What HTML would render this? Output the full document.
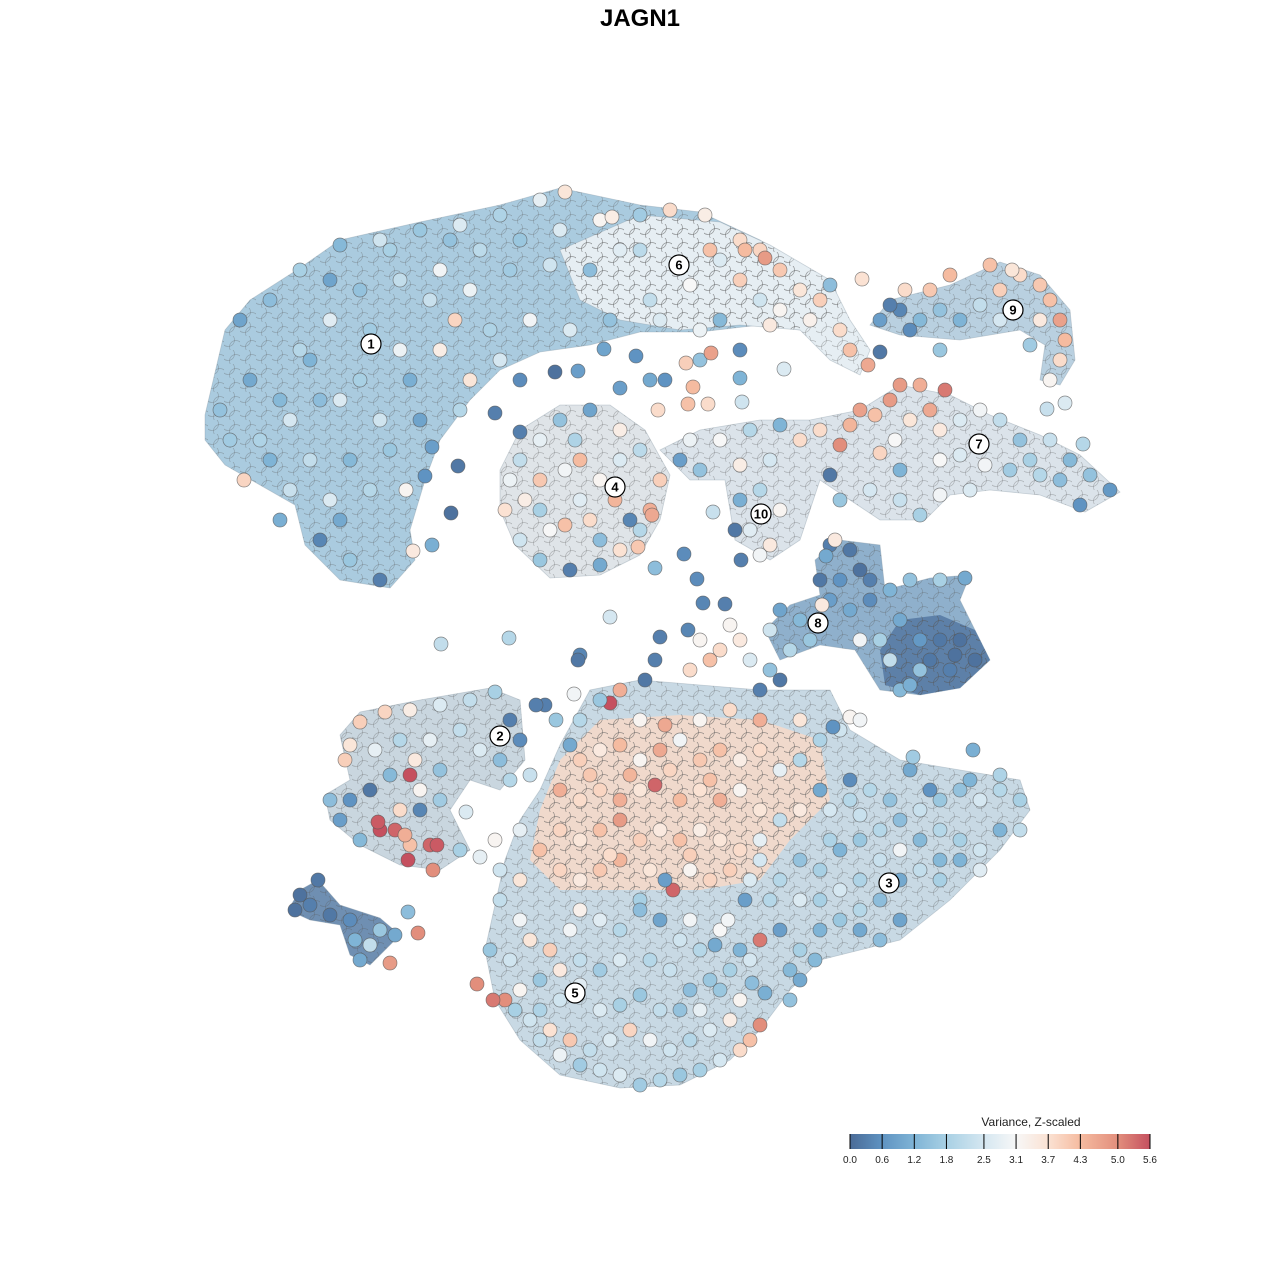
<!DOCTYPE html>
<html><head><meta charset="utf-8"><style>
html,body{margin:0;padding:0;background:#fff;}
svg{display:block;font-family:"Liberation Sans",Arial,sans-serif;}
</style></head><body>
<svg id="chart" width="1280" height="1280" viewBox="0 0 1280 1280" xmlns="http://www.w3.org/2000/svg">
<defs>
<pattern id="tex" width="16" height="14" patternUnits="userSpaceOnUse">
<circle cx="4" cy="4" r="6.5" fill="none" stroke="#555" stroke-opacity="0.35" stroke-width="0.7"/>
<circle cx="12" cy="11" r="6.5" fill="none" stroke="#555" stroke-opacity="0.35" stroke-width="0.7"/>
</pattern>
</defs>
<rect x="0" y="0" width="1280" height="1280" fill="#fff"/>
<text x="640" y="26" text-anchor="middle" font-size="24" font-weight="bold" fill="#000">JAGN1</text>
<g id="hulls" stroke="#8899a6" stroke-width="0.8" stroke-opacity="0.4">
<path fill="#aacbdf" d="M205,415 L225,330 L250,300 L300,268 L340,240 L420,222 L500,205 L560,188 L640,205 L700,212 L760,240 L800,268 L835,285 L840,315 L800,330 L760,325 L700,332 L640,332 L590,345 L540,352 L500,370 L470,400 L440,440 L425,480 L410,530 L415,560 L390,588 L340,580 L305,545 L295,505 L260,485 L225,465 L205,440 Z"/>
<path fill="#e6eef3" d="M560,250 L640,215 L720,222 L770,245 L830,280 L850,320 L870,350 L860,375 L830,360 L800,330 L740,325 L680,330 L620,320 L580,300 Z"/>
<path fill="#dfe4e8" d="M500,470 L520,430 L560,405 L610,405 L645,430 L670,475 L660,520 L640,555 L600,575 L550,578 L515,545 L500,510 Z"/>
<path fill="#dbe3ea" d="M660,450 L700,430 L760,420 L810,420 L860,410 L900,385 L950,395 L990,415 L1040,435 L1080,455 L1120,492 L1085,512 L1040,495 L990,490 L950,495 L925,520 L880,520 L850,500 L820,480 L800,540 L770,560 L735,540 L725,480 L690,480 Z"/>
<path fill="#b9d0e0" d="M870,325 L890,300 L950,285 L1000,262 L1040,275 L1070,310 L1075,360 L1060,385 L1040,380 L1045,345 L1020,330 L960,340 L900,335 Z"/>
<path fill="#8fb0cc" d="M815,560 L840,540 L880,545 L885,590 L930,578 L970,575 L960,600 L975,630 L990,660 L960,688 L920,695 L880,690 L855,650 L820,645 L780,660 L765,630 L790,605 L820,595 Z"/>
<path fill="#5d80a8" stroke="none" d="M900,620 L940,615 L975,630 L990,660 L960,688 L920,695 L885,685 L880,650 Z"/>
<path fill="#c9d6df" d="M340,735 L360,712 L420,700 L490,688 L520,700 L525,760 L500,790 L470,780 L450,810 L470,850 L440,870 L400,865 L360,845 L330,820 L325,795 L350,780 Z"/>
<path fill="#c8d9e4" d="M560,745 L590,690 L640,680 L700,685 L760,690 L830,690 L850,730 L900,760 L960,770 L1020,780 L1030,810 L1000,850 L950,900 L900,940 L820,960 L790,990 L760,1030 L730,1060 L680,1085 L620,1088 L560,1075 L520,1040 L495,1000 L485,950 L495,905 L505,860 L520,820 L540,790 Z"/>
<path fill="#f0d9cc" stroke="none" d="M560,760 L600,720 L680,715 L760,720 L820,740 L830,800 L790,840 L760,880 L700,890 L620,890 L560,890 L530,860 L540,810 Z"/>
<path fill="#6f8fb2" d="M288,910 L300,890 L318,880 L340,905 L380,918 L400,935 L370,965 L350,955 L340,925 L310,920 Z"/>
</g>
<g id="texture"></g>
<g id="points"></g>
<g id="labels"></g>
<g id="legend">
<text x="1031" y="1126" text-anchor="middle" font-size="12" fill="#222">Variance, Z-scaled</text>
<defs><linearGradient id="cbar" x1="0" x2="1" y1="0" y2="0">
<stop offset="0" stop-color="#4a6b97"/><stop offset="0.107" stop-color="#5f93c2"/><stop offset="0.214" stop-color="#7fb4d6"/><stop offset="0.321" stop-color="#a8d0e4"/><stop offset="0.446" stop-color="#d5e7f1"/><stop offset="0.554" stop-color="#f7f7f7"/><stop offset="0.661" stop-color="#fbe2d3"/><stop offset="0.768" stop-color="#f5bba0"/><stop offset="0.893" stop-color="#e28e7c"/><stop offset="1" stop-color="#c5505f"/>
</linearGradient></defs>
<rect x="850" y="1134" width="300" height="15" fill="url(#cbar)"/>
<g id="ticks"></g>
</g>
<script>
var legendTicks = [0.0, 0.6, 1.2, 1.8, 2.5, 3.1, 3.7, 4.3, 5.0, 5.6];
var colorStops = [0, 0.6, 1.2, 1.8, 2.5, 3.1, 3.7, 4.3, 5.0, 5.6];
var colorVals = ["#4a6b97","#5f93c2","#7fb4d6","#a8d0e4","#d5e7f1","#f7f7f7","#fbe2d3","#f5bba0","#e28e7c","#c5505f"];
var clusterIds = ["1","6","9","7","4","10","8","2","3","5"];
var clusterX = [37.1,67.9,101.3,97.9,61.5,76.1,81.8,50.0,88.9,57.5];
var clusterY = [34.4,26.5,31.0,44.4,48.7,51.4,62.3,73.6,88.3,99.3];
var cells = [
[22,41,1.5],[24,32,0.9],[27,30,1.4],[30,27,1.8],[34,24.5,1.3],[38,24,2.4],[42,23,1.6],[46,22.5,2.6],[50,21.5,1.9],[54,20,2.8],[56.5,19.2,3.6],
[25,38,1.0],[23,44,1.7],[24.4,48,3.9],[27,46,1.2],[29,42,2.5],[32,40,1.4],[30,35,2.0],[33,32,2.7],[36,29,1.5],[40,28,2.2],[44,27,3.0],[48,25,2.1],[52,24,1.6],[56,23,2.6],[60,22,3.2],[64,21.5,1.7],[67,21,3.8],[70.5,21.5,3.4],[74,24,3.8],[76,25,3.9],[72,26,2.6],[69,28.5,3.1],[65,30,2.2],[61,32,1.5],[57,33,2.6],[53,32,3.0],[49,33,1.9],[45.5,32,3.9],[44,35,3.4],[41,38,1.1],[38,42,2.4],[35,46,1.3],[33,50,2.6],[32,54,0.4],[35,56,1.6],[38,58,0.3],[40.6,49,3.2],[41.3,55.1,3.5],[43.2,54.5,1.1],[42,42,0.9],[40,35,2.9],[47,38,3.6],[50,36,2.5],[52,38,0.5],[46,41,2.0],[43.2,44.7,0.8],[45.8,46.6,0.2],[45.1,51.3,0.1],[42.5,47.6,0.6],[36,38,1.8],[28,52,1.1],[29,49,2.3],
[31,36,1.2],[26,44,1.9],[34,52,1.0],[37,49,2.0],[39,45,1.6],[31,46,2.2],[28,40,1.3],[34,40,2.6],[37,33,1.7],[43,30,2.3],[47,29,2.9],[51,27,1.7],[55,26.5,2.4],[59,27,1.4],[62,25,2.7],[45,24,1.5],[39,25,1.8],[33,28,0.9],
[78,27,4.1],[80,29,3.6],[82,30,4.0],[83,28.5,1.4],[81,32,3.3],[84,33,3.8],[85,35,4.2],[86.8,36.5,4.6],[86.2,27.9,3.7],[78,31,3.2],[76,30,2.4],[74,28,4.0],[71,25,4.2],[74.5,25,4.3],[76.5,25.8,4.8],[64,25,2.1],[61.2,21.7,3.4],[70,33,2.9],[72,32,1.3],[66,32,2.6],[77,32.5,3.5],[74,35,0.5],[88,35.2,0.2],
[55.5,37.2,0.1],[57.8,37.1,0.8],[60.4,34.9,0.9],[63.6,35.6,0.6],[65,38,1.0],[62,38.8,0.8],[66.5,38,0.6],[69.3,38.7,4.3],[70,36,1.5],[71.1,35.3,4.7],[68.6,36.3,4.0],[65.8,41,3.8],[68.8,40.4,4.2],[70.8,40.4,3.8],[74,37.8,1.2],[74.2,40.2,2.4],[78.4,36.9,2.6],[49.5,41.3,0.3],[52,43.2,0.3],
[52,46,2.2],[54,44,2.8],[56,42,1.5],[59,41,0.9],[62,43,3.4],[64,45,2.1],[66,48,4.0],[65,51,4.5],[64,53,2.0],[62,55,3.7],[60,56.5,1.0],[57,57,0.3],[54,56,1.6],[52,54,2.4],[50.5,51,3.7],[51,48,2.9],[54,48,4.1],[56.5,47,3.0],[58,46,4.3],[60,48,3.2],[61.5,50,4.4],[59,52,3.8],[56.5,52.5,4.2],[54,51,1.8],[62,46,2.6],[63,52,0.4],[57.5,44,1.9],[60,54,1.4],[52.5,50,3.4],[65.2,51.5,4.6],[63.8,54.7,4.1],[55,53,3.1],[58,50,2.7],
[69,44,2.9],[72,44,3.1],[75,43,2.0],[78,42.5,1.2],[80,44,3.8],[77,46,2.5],[74,46.5,3.4],[70,47,1.5],[68,46,0.8],[76,49,2.0],[78,51,3.2],[75,53,2.7],[77,54.5,3.5],[74,50,1.1],[76,55.5,3.0],[74.1,56,0.3],[71.3,51.2,2.3],[73.5,53,0.2],
[82,43,3.8],[85,42.5,4.4],[87.5,41.5,4.2],[89,40,4.8],[90,38.5,4.8],[92,38.5,4.5],[94.5,39,5.2],[93,41,4.6],[91,42,3.6],[89.5,44,3.1],[94,43,3.5],[96,42,2.6],[98,41,3.0],[100,42,2.2],[102,44,1.5],[105,44,2.3],[107,46,1.3],[109,47.5,1.5],[111,49,0.7],[108,50.5,0.6],[104,47.5,2.0],[101,47,1.7],[98.5,46.5,3.0],[96,45.5,2.6],[94,46,3.1],[108.3,44.4,2.0],[104.7,40.9,2.3],[86,41,4.7],[84,44.5,5.0],[88,45.3,3.9],[83,47.5,0.2],[84,50,1.6],[87,49,2.5],[90,50,2.3],[92,51.5,1.8],[94,49.5,3.0],[97,49,2.6],[90,47,1.2],[103,46,1.8],[106,48,1.4],
[88,32,0.8],[90,31,0.4],[92,32,1.3],[94,31,1.5],[96,32,1.2],[98,30.5,2.2],[100,32,2.5],[100,29,4.0],[102,27.5,3.8],[104,28.5,4.1],[105,30,4.2],[106,32,4.7],[106.5,34,4.3],[106,36,3.8],[105,38,3.2],[106.5,40.3,2.6],[103,34.5,1.7],[104,32,3.5],[95,27.5,4.3],[93,29,4.1],[99,26.5,4.2],[94,35,1.6],[101.2,27,3.6],[90.5,29,3.8],[89,30.5,0.3],[91,33,0.5],
[83,54.5,0.3],[85,55,0.2],[86,57,0.1],[87,58,0.3],[84,58,0.6],[83,60,0.8],[82,62,1.9],[80,62,1.3],[78,61,0.9],[77,63,2.4],[79,65,2.0],[81,64,1.6],[85,61,1.0],[87,60,0.5],[89,59,1.2],[91,58,1.5],[94,58,1.8],[96.5,57.8,1.0],[90,62,1.0],[92,64,0.7],[94,64,0.2],[96,64,0.1],[97.5,66,0.1],[95,67,0.3],[92,67,1.5],[90,69,1.3],[89,66,2.2],[88,64,1.8],[86,64,3.0],[83.5,54,3.5],[82.6,55.6,1.0],[82,58,0.2],[82.2,60.5,3.5],[93,66,0.2],[95.5,65.5,0.1],[91,68.5,1.1],
[61,61.7,2.5],[68.4,55.4,0.5],[69.7,57.9,0.5],[70.3,60.3,0.4],[72.5,60.4,0.3],[68.8,63,0.4],[66,63.7,0.3],[65.5,66,0.3],[64.5,68,0.2],[58,65.5,0.4],[57.8,66,0.2],[70,64,3.2],[72,65,3.8],[74,64,3.5],[71,66,4.2],[69,67,3.8],[73,62.5,3.2],[75,66,2.6],[77,67,1.5],[76,69,0.3],[78,68,0.2],[50.9,63.8,2.0],[44.1,64.4,2.2],[65.5,56.8,1.4],
[36,72.2,4.0],[38.5,71.2,3.9],[41,71,3.4],[44,70.5,2.6],[47,70,2.2],[49.5,69.2,1.8],[35,74.5,3.6],[34.5,76,4.0],[37.5,75,2.8],[40,74,2.0],[43,74,2.8],[46,73,2.2],[48,75,2.6],[50,76,1.4],[52,74,0.5],[51,72,0.3],[41.5,76,3.5],[39,77.5,1.3],[37,79,0.2],[35,80,0.6],[33,80,1.4],[34,82,0.8],[36,84,1.3],[38,83,5.6],[39.5,83,5.4],[37.8,82.2,5.5],[41,77.5,5.6],[42,79,3.2],[42,81,0.4],[44,80,1.7],[40,81,3.8],[41,84.5,4.2],[40.8,86,5.6],[43,84.5,5.4],[43.7,84.5,5.5],[43.3,87,5.0],[40.5,83.5,4.5],[46,85,1.8],[46.6,81.2,2.6],[44,77,1.5],[53,77.5,2.3],[51,78,2.0],[49.5,84,3.2],[48,85.7,2.8],[54.5,70.5,0.3],[53.6,70.5,0.3],[55.6,72,1.6],[57.4,69.4,3.0],
[29.5,91,0.1],[30,89.5,0.1],[31.8,88,0.2],[31,90.5,0.3],[33,91.5,0.2],[35,92,0.5],[35.5,94,1.2],[36,96,1.0],[38,93,1.6],[37,94.5,2.2],[39.5,93.5,1.0],[40.8,91.2,1.4],[39,96.3,4.8],[41.8,93.3,5.0],
[58,76,4.0],[60,75,3.5],[62,74.5,4.3],[64,76,3.2],[66,75,4.6],[68,74,3.0],[70,76,4.1],[72,75,4.2],[74,76,3.4],[76,75,3.8],[78,77,2.8],[80,76,2.0],[82,74,1.9],[84,73,2.4],[80,72,3.6],[76,72,4.5],[73,71,3.8],[70,72,3.2],[66.5,72.5,4.6],[64,72,3.2],[61,70.3,5.6],[62,69,4.5],[60,70,1.6],[58,72,2.0],[57,74.5,1.0],[56,79,4.5],[58,80,3.8],[60,79,3.9],[62,80,4.5],[64,79,3.6],[65.5,78.5,5.4],[68,80,4.3],[70,79,3.7],[72,80,4.5],[74,79,3.2],[76,81,3.6],[78,82,2.2],[80,81,3.5],[83,81,2.5],[85,80,2.0],[56,83,3.9],[58,84,3.6],[60,83,4.2],[62,82,4.8],[64,84,4.0],[66,83,3.5],[68,84,4.2],[70,83,3.4],[72,84,3.6],[74,85,3.8],[76,84,2.8],[54,85,4.2],[52,83,2.8],[50,87,2.4],[52,88,3.6],[56,87,3.9],[58,88,3.5],[60,87,4.1],[62,86,4.4],[65,87,3.6],[67.3,89,5.4],[69,87,3.2],[71,88,3.9],[73,87,4.0],[75,88,2.6],[66.5,88,0.8],[64,90,1.8],[59,77.5,4.1],[63,77.5,4.4],[67,77,3.9],[71,78,4.2],[61,85.5,3.8],[69,85.5,4.0],
[50,90,2.2],[52,92,3.0],[49,95,1.6],[51,96,2.4],[53,94,3.6],[55,95,4.0],[57,93,3.0],[58,91,3.3],[60,92,2.7],[62,93,2.0],[64,91,1.4],[66,92,0.9],[68,94,2.4],[70,95,2.0],[69,92,3.0],[72,93,3.1],[74,95,1.2],[76,94,5.2],[75,96,2.5],[73,97,1.8],[71,98,1.6],[69,99,1.4],[67,97,2.3],[65,96,2.0],[62,96,2.6],[60,97,1.7],[58,96,2.2],[56,97,3.5],[54,98,1.6],[52,99,3.2],[50.5,100,5.0],[49.3,100,5.2],[47.7,98.4,5.0],[51.5,101,1.8],[53,102,2.4],[55,103,3.7],[57,104,4.1],[59,105,2.2],[61,104,2.6],[63,103,3.9],[65,104,3.0],[67,105,2.4],[69,104,2.0],[71,103,2.6],[73,102,3.4],[75,104,4.2],[76,102.5,5.0],[74,105,3.8],[72,106,2.5],[70,107,1.8],[68,107.5,1.6],[66,108,2.0],[64,108.5,1.7],[62,107.5,2.6],[60,107,2.4],[58,106.5,1.7],[56,105.5,2.9],[54,104,2.2],[60,101,2.6],[62,100.5,1.8],[64,99.5,1.6],[66,101,2.2],[68,101,1.5],[70,101,2.8],[56,100,2.4],[54,101,1.9],[58,98.5,2.7],[72,99,1.6],[74,100,3.2],[76.5,99.3,1.1],[75.2,98.3,1.4],[71.5,94.5,1.0],[72.8,92,3.0],
[78,88,2.0],[80,86,1.5],[82,87,1.8],[84,85,1.2],[86,84,1.6],[88,83,2.0],[90,82,1.4],[92,81,2.3],[94,80,1.6],[96,79,1.5],[98,80,2.5],[100,79,2.0],[102,80,1.8],[102,83,2.2],[100,83,1.2],[98,85,2.4],[96,84,1.8],[94,86,1.3],[92,87,2.2],[90,88,1.0],[88,90,1.4],[86,91,2.0],[84,92,1.6],[82,93,1.2],[80,95,1.8],[79,97,1.3],[78,93,0.8],[80,90,2.6],[82,90,1.8],[84,89,2.5],[86,88,1.9],[90,85,3.0],[92,84,1.3],[94,83,2.0],[96,86,1.2],[98,87,2.7],[88,86,2.3],[86,93,1.0],[88,94,1.4],[90,92,0.9],[94,88,1.8],[91,77,1.0],[93,79,0.6],[97,78,1.2],[100,77.5,1.9],[97.3,75,1.1],[91.3,75.7,1.7],[82,79,1.0],[85,78,0.5],[87,79,2.0],[89,80,1.5],[86,81.5,2.3],[83,84,1.9],[81.5,96,1.3],[79,100,1.5],[80,98,1.0],[76,86,2.5],[77,90,2.0],[74.5,90,0.8],[83.3,72.7,0.6],[85,71.7,3.2],[86,72,3.0]
];
var svgNS = "http://www.w3.org/2000/svg";
function xScale(d){ return d * 10; }
function yScale(d){ return d * 10; }
function legendX(v){ return 850 + v / 5.6 * 300; }
function hex2rgb(h){ return [parseInt(h.substr(1,2),16),parseInt(h.substr(3,2),16),parseInt(h.substr(5,2),16)]; }
function colorFor(v){
  if (v <= colorStops[0]) return colorVals[0];
  for (var i = 1; i < colorStops.length; i++){
    if (v <= colorStops[i]){
      var t = (v - colorStops[i-1]) / (colorStops[i] - colorStops[i-1]);
      var a = hex2rgb(colorVals[i-1]), b = hex2rgb(colorVals[i]);
      return "rgb(" + Math.round(a[0]+(b[0]-a[0])*t) + "," + Math.round(a[1]+(b[1]-a[1])*t) + "," + Math.round(a[2]+(b[2]-a[2])*t) + ")";
    }
  }
  return colorVals[colorVals.length-1];
}
var texG = document.getElementById("texture");
Array.prototype.forEach.call(document.querySelectorAll("#hulls path"), function(p){
  var q = document.createElementNS(svgNS, "path");
  q.setAttribute("d", p.getAttribute("d"));
  q.setAttribute("fill", "url(#tex)");
  q.setAttribute("stroke", "none");
  
  
  texG.appendChild(q);
});
var pg = document.getElementById("points");
cells.forEach(function(c){
  var el = document.createElementNS(svgNS, "circle");
  el.setAttribute("cx", xScale(c[0]));
  el.setAttribute("cy", yScale(c[1]));
  el.setAttribute("r", 7);
  el.setAttribute("fill", colorFor(c[2]));
  el.setAttribute("stroke", "#555");
  el.setAttribute("stroke-opacity", "0.7");
  el.setAttribute("stroke-width", "0.7");
  
  
  pg.appendChild(el);
});
var lg = document.getElementById("labels");
clusterIds.forEach(function(id, i){
  var g = document.createElementNS(svgNS, "g");
  
  
  var c = document.createElementNS(svgNS, "circle");
  c.setAttribute("cx", xScale(clusterX[i])); c.setAttribute("cy", yScale(clusterY[i]));
  c.setAttribute("r", 10); c.setAttribute("fill", "#fff"); c.setAttribute("stroke", "#000"); c.setAttribute("stroke-width", "1.2");
  var t = document.createElementNS(svgNS, "text");
  t.setAttribute("x", xScale(clusterX[i])); t.setAttribute("y", yScale(clusterY[i]) + 4.5);
  t.setAttribute("text-anchor", "middle"); t.setAttribute("font-size", "13"); t.setAttribute("font-weight", "bold");
  t.textContent = id;
  g.appendChild(c); g.appendChild(t); lg.appendChild(g);
});
var tg = document.getElementById("ticks");
legendTicks.forEach(function(v){
  var x = legendX(v);
  var l = document.createElementNS(svgNS, "line");
  l.setAttribute("x1", x); l.setAttribute("x2", x); l.setAttribute("y1", 1134); l.setAttribute("y2", 1149);
  l.setAttribute("stroke", "#000"); l.setAttribute("stroke-width", "1");
  
  
  tg.appendChild(l);
  var t = document.createElementNS(svgNS, "text");
  t.setAttribute("x", x); t.setAttribute("y", 1163); t.setAttribute("text-anchor", "middle"); t.setAttribute("font-size", "10"); t.setAttribute("fill", "#222");
  t.textContent = v.toFixed(1);
  
  
  tg.appendChild(t);
});
</script>
</svg>
</body></html>
